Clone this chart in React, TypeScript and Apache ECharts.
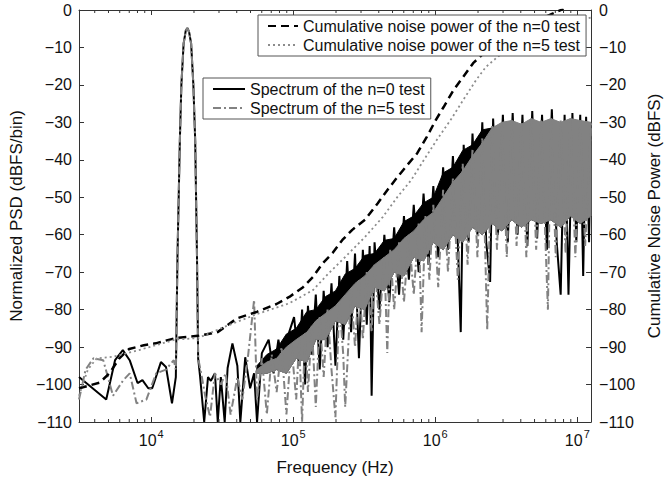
import React, { useEffect, useRef } from 'react';
import * as echarts from 'echarts';

const FONT = '"Liberation Sans", Arial, Helvetica, sans-serif';

const X_MIN = 3100;
const X_MAX = 12500000;
const Y_MIN = -110;
const Y_MAX = 0;

const NAME_CUM0 = 'Cumulative noise power of the n=0 test';
const NAME_CUM5 = 'Cumulative noise power of the n=5 test';
const NAME_SPEC0 = 'Spectrum of the n=0 test';
const NAME_SPEC5 = 'Spectrum of the n=5 test';

// Cumulative noise power (right axis, dBFS)
const cumN0: [number, number][] = [
  [3100, -101], [4330, -99.5], [5080, -97], [5960, -93], [6990, -90.5], [8870, -89.5],
  [10740, -89], [14780, -87.6], [21320, -87], [29320, -86], [40320, -82.3], [55440, -80.6],
  [76270, -78.5], [93830, -76.6], [117300, -74], [137500, -71.3], [161300, -67.6],
  [189100, -64.9], [221800, -61.4], [260200, -58.7], [320100, -56], [393700, -51.6],
  [461700, -48], [541600, -44.6], [635200, -41.4], [744700, -38.3], [873600, -33.8],
  [1008000, -29.4], [1145000, -25.9], [1343000, -21.4], [1575000, -17.8], [1847000, -14.2],
  [2200000, -11.5], [3470000, -6.8], [5800000, -2], [8000000, 0.3],
];
const cumN5: [number, number][] = [
  [3100, -103], [3578, -96], [4130, -93], [5329, -92.6], [8195, -90.8], [14780, -88],
  [21320, -87.6], [32780, -84.6], [55440, -81.2], [93830, -78.3], [137500, -74.8],
  [177500, -70.3], [232700, -65.9], [320100, -60.6], [426300, -55.3], [541600, -49.9],
  [677000, -45.4], [832600, -40], [1024000, -34.7], [1280000, -29.4], [1575000, -24],
  [1938000, -18.7], [2272000, -15.2], [2751000, -12.5], [4806000, -6], [12500000, -2],
];

// Spectrum of the n=0 test (left axis, dBFS/bin)
const specN0: [number, number][] = [
  [3100, -98], [4820, -104], [5560, -93.5], [6310, -90.8], [7050, -93.5], [8010, -99.6],
  [8670, -98.8], [9530, -101], [10160, -101], [11700, -94], [12700, -95.3], [14000, -105],
  [14900, -98], [15300, -66], [15900, -35], [16300, -20], [16900, -9], [17500, -5.5],
  [18000, -4.8], [18500, -6], [19100, -9], [19800, -20], [20400, -35], [21000, -66],
  [21400, -93], [22100, -98], [23600, -110], [25100, -98], [26300, -99], [28100, -97],
  [29400, -110], [30900, -98], [32900, -110], [34500, -95.6], [37300, -89], [40400, -95],
  [42400, -110], [45900, -92.7], [49700, -101], [53000, -97], [55600, -110], [60100, -91.6],
  [67100, -88], [72700, -97], [78600, -88], [85100, -96], [93600, -86], [101300, -82],
  [110000, -95], [115400, -80], [121000, -100], [126900, -79], [135200, -92], [144100, -76],
  [153600, -96], [163700, -75], [174400, -90], [185900, -73], [198100, -95], [211100, -71],
  [224900, -88], [239700, -67], [255400, -86], [272200, -65], [290100, -93], [309100, -64],
  [329400, -84], [345100, -63], [356300, -103], [373600, -62], [404500, -80], [438000, -60],
  [474200, -78], [513400, -58], [555900, -76], [601800, -55], [651600, -72], [705400, -52],
  [763800, -70], [826900, -49], [895200, -68], [968800, -47], [1048800, -66], [1135500, -42],
  [1229300, -64], [1330900, -39], [1441100, -62], [1511200, -86], [1584900, -36],
  [1715800, -62], [1828500, -33], [1980500, -60], [2143600, -30], [2283600, -62],
  [2433000, -72.6], [2554100, -29], [2763400, -60], [2992200, -28], [3239300, -62],
  [3507000, -27.5], [3795700, -60], [4109600, -28], [4448600, -63], [4816900, -27],
  [5215000, -61], [5646100, -28], [6112400, -64], [6617200, -26.5], [7163700, -62],
  [7637600, -76], [8139300, -28], [8669600, -76], [9238200, -27.5], [9842400, -62],
  [10488000, -28], [11000000, -71], [11536000, -28.5], [12099000, -62], [12500000, -30],
];

// Spectrum of the n=5 test (left axis, dBFS/bin)
const specN5: [number, number][] = [
  [3100, -104], [3451, -96], [3919, -93], [4592, -93.5], [5384, -103], [6310, -99],
  [7054, -97], [7880, -105], [9237, -104], [10830, -97], [12690, -96], [14410, -93.5],
  [14900, -96], [15300, -66], [15900, -35], [16300, -20], [16900, -9], [17500, -5.5],
  [18000, -4.8], [18500, -6], [19100, -9], [19800, -20], [20400, -35], [21000, -66],
  [21400, -93], [22490, -97], [23970, -103], [25940, -108.6], [28080, -97], [30910, -100],
  [33440, -97], [36190, -108], [40450, -98], [43800, -104], [48170, -92], [53000, -77.4],
  [55590, -104], [60180, -93], [65160, -108], [70540, -92], [76380, -102], [82690, -90],
  [89520, -108], [96880, -89], [104900, -104], [110000, -88], [115400, -110], [121000, -86],
  [126900, -102], [135200, -84], [144100, -106], [153600, -82], [163700, -98], [174400, -80],
  [185900, -96], [198100, -108.7], [211100, -78], [224900, -92], [232100, -106],
  [255400, -75], [272200, -90], [290100, -72], [309100, -88], [329400, -70], [356300, -86],
  [373600, -68], [404500, -84], [438000, -66], [459300, -91.6], [481700, -64], [513400, -80],
  [555900, -62], [601800, -78], [651600, -60], [705400, -76], [763800, -57], [801000, -86],
  [853200, -55], [909500, -72], [968800, -52], [1048800, -74], [1135500, -48],
  [1229300, -70], [1330900, -45], [1441100, -72], [1560000, -41], [1688900, -68],
  [1828500, -37], [1980500, -66], [2143600, -34], [2320800, -85.5], [2511900, -31],
  [2719900, -64], [2944400, -30], [3187500, -66], [3451400, -29.5], [3735900, -63],
  [4045400, -30], [4378500, -66], [4742200, -29], [5132500, -64], [5558800, -29.5],
  [6209900, -80], [6515700, -29], [7054200, -66], [7637600, -29.5], [8268500, -65],
  [8951600, -29], [9688000, -66], [10488000, -29.5], [11355000, -63], [12500000, -30],
];

// Dense-region cores (n=0 core top, n=5 core top / bottom)
const bandFreq = [
  55440, 65160,
  76380, 89520, 104900, 124900, 144100, 168900, 198100, 232100, 272200, 318800,
  373600, 438000, 513400, 601800, 705400, 826900, 968800, 1135500, 1330900, 1560000,
  1828500, 2143600, 2511900, 2944400, 3451400, 4045400, 4742200, 5558800, 6515700,
  7637600, 8951600, 10488000, 12500000,
];
const bandN0Hi = [
  -95, -92,
  -90.5, -86.5, -85, -80.5, -80, -76.5, -75, -70.5, -69, -65.5,
  -65, -61.5, -61, -56.5, -55, -51.5, -50, -43.5, -42, -37.5,
  -36, -32, -31.5, -30.5, -30.5, -31, -30.5, -30.5, -30.5,
  -30.5, -30.5, -30.5, -31,
];
const bandN5Hi = [
  -96, -94,
  -93, -90, -88, -86, -83, -81, -79, -76, -73, -71,
  -68, -66, -64, -61, -59, -56, -54, -50, -46, -43,
  -39, -35.5, -31.5, -30, -29.5, -30.5, -29, -30, -29,
  -30, -29, -29.5, -30,
];
const bandN5Lo = [
  -97, -97,
  -96, -97, -93, -94, -88, -88, -83, -84, -79, -80,
  -74, -75, -70, -71, -66, -67, -62, -64, -60, -62,
  -58, -60, -57, -59, -56, -58, -56, -57, -56,
  -58, -55, -57, -55,
];

const minorTickFreq = [
  4000, 5000, 6000, 7000, 8000, 9000,
  20000, 30000, 40000, 50000, 60000, 70000, 80000, 90000,
  200000, 300000, 400000, 500000, 600000, 700000, 800000, 900000,
  2000000, 3000000, 4000000, 5000000, 6000000, 7000000, 8000000, 9000000,
];

const AXIS_COLOR = '#333';
const TEXT_COLOR = '#111';
const GREY = '#828282';

function bandSeries(name: string, hi: number[], lo: number[], color: string, z: number) {
  return {
    type: 'custom',
    name,
    coordinateSystem: 'cartesian2d',
    xAxisIndex: 0,
    yAxisIndex: 0,
    clip: true,
    silent: true,
    z,
    data: bandFreq.map((f, i) => [f, hi[i], lo[i]]),
    encode: { x: 0, y: [1, 2] },
    renderItem: (params: any, api: any) => {
      if (params.dataIndex !== 0) return null;
      const top = bandFreq.map((f, i) => api.coord([f, hi[i]]));
      const bot = bandFreq.map((f, i) => api.coord([f, lo[i]])).reverse();
      return {
        type: 'polygon',
        shape: { points: top.concat(bot) },
        style: { fill: color, stroke: color, lineWidth: 1 },
      };
    },
  };
}

function yLabel(v: number) {
  return v < 0 ? '\u2212' + String(-v) : String(v);
}

function xLabel(v: number) {
  const e = Math.round(Math.log10(v));
  if (Math.abs(v / Math.pow(10, e) - 1) > 1e-6) return '';
  return '{b|10}{s|' + e + '}';
}

export default function App() {
  const ref = useRef<HTMLDivElement>(null);

  useEffect(() => {
    if (!ref.current) return;
    const chart = echarts.init(ref.current, undefined, { renderer: 'svg' });

    const axisLine = { show: true, onZero: false, lineStyle: { color: AXIS_COLOR, width: 1 } };
    const axisTick = { show: true, inside: true, length: 5, lineStyle: { color: AXIS_COLOR, width: 1 } };

    const legendCommon = {
      orient: 'vertical',
      itemHeight: 14,
      itemGap: 3,
      padding: [3, 6, 3, 9],
      backgroundColor: '#fff',
      borderColor: '#555',
      borderWidth: 1,
      selectedMode: false,
      z: 10,
      itemStyle: { opacity: 0 },
      textStyle: { fontSize: 16, fontFamily: FONT, color: TEXT_COLOR },
    };

    const option: any = {
      animation: false,
      backgroundColor: '#fff',
      textStyle: { fontFamily: FONT },
      grid: { left: 79, right: 71, top: 10, bottom: 59, containLabel: false },
      xAxis: [
        {
          type: 'log',
          logBase: 10,
          min: X_MIN,
          max: X_MAX,
          position: 'bottom',
          axisLine,
          axisTick,
          splitLine: { show: false },
          axisLabel: {
            formatter: xLabel,
            margin: 6,
            showMinLabel: false,
            showMaxLabel: false,
            rich: {
              b: { fontSize: 16, fontFamily: FONT, color: TEXT_COLOR, lineHeight: 20, verticalAlign: 'bottom' },
              s: { fontSize: 11, fontFamily: FONT, color: TEXT_COLOR, lineHeight: 20, verticalAlign: 'top', padding: [0, 0, 0, 1] },
            },
          },
          name: 'Frequency (Hz)',
          nameLocation: 'middle',
          nameGap: 37,
          nameTextStyle: { fontSize: 17, fontFamily: FONT, color: TEXT_COLOR },
        },
        {
          type: 'log',
          logBase: 10,
          min: X_MIN,
          max: X_MAX,
          position: 'top',
          axisLine,
          axisTick,
          splitLine: { show: false },
          axisLabel: { show: false },
        },
      ],
      yAxis: [
        {
          type: 'value',
          min: Y_MIN,
          max: Y_MAX,
          interval: 10,
          position: 'left',
          axisLine,
          axisTick,
          splitLine: { show: false },
          axisLabel: { formatter: yLabel, fontSize: 16, fontFamily: FONT, color: TEXT_COLOR, margin: 7 },
          name: 'Normalized PSD (dBFS/bin)',
          nameLocation: 'middle',
          nameRotate: 90,
          nameGap: 53,
          nameTextStyle: { fontSize: 17, fontFamily: FONT, color: TEXT_COLOR },
        },
        {
          type: 'value',
          min: Y_MIN,
          max: Y_MAX,
          interval: 10,
          position: 'right',
          axisLine,
          axisTick,
          splitLine: { show: false },
          axisLabel: { formatter: yLabel, fontSize: 16, fontFamily: FONT, color: TEXT_COLOR, margin: 8 },
          name: 'Cumulative Noise Power (dBFS)',
          nameLocation: 'middle',
          nameRotate: 90,
          nameGap: 47,
          nameTextStyle: { fontSize: 17, fontFamily: FONT, color: TEXT_COLOR },
        },
      ],
      legend: [
        { ...legendCommon, data: [NAME_CUM0, NAME_CUM5], left: 258, top: 15, itemWidth: 30 },
        { ...legendCommon, data: [NAME_SPEC0, NAME_SPEC5], left: 203, top: 78, itemWidth: 32 },
      ],
      series: [
        bandSeries('bandN0', bandN0Hi, bandN5Lo, '#000', 2),
        {
          type: 'line',
          name: NAME_SPEC0,
          data: specN0,
          xAxisIndex: 0,
          yAxisIndex: 0,
          symbol: 'none',
          showSymbol: false,
          silent: true,
          z: 3,
          lineStyle: { color: '#000', width: 2 },
          itemStyle: { color: '#000' },
        },
        bandSeries('bandN5', bandN5Hi, bandN5Lo, GREY, 4),
        {
          type: 'line',
          name: NAME_SPEC5,
          data: specN5,
          xAxisIndex: 0,
          yAxisIndex: 0,
          symbol: 'none',
          showSymbol: false,
          silent: true,
          z: 5,
          lineStyle: { color: GREY, width: 2, type: [8, 3, 2, 3] },
          itemStyle: { color: GREY },
        },
        {
          type: 'line',
          name: NAME_CUM0,
          data: cumN0,
          xAxisIndex: 0,
          yAxisIndex: 1,
          symbol: 'none',
          showSymbol: false,
          silent: true,
          z: 6,
          lineStyle: { color: '#000', width: 2.5, type: [8, 5] },
          itemStyle: { color: '#000' },
        },
        {
          type: 'line',
          name: NAME_CUM5,
          data: cumN5,
          xAxisIndex: 0,
          yAxisIndex: 1,
          symbol: 'none',
          showSymbol: false,
          silent: true,
          z: 6,
          lineStyle: { color: '#8c8c8c', width: 1.8, type: [2, 3] },
          itemStyle: { color: '#8c8c8c' },
        },
        {
          type: 'custom',
          name: 'minorTicks',
          coordinateSystem: 'cartesian2d',
          xAxisIndex: 0,
          yAxisIndex: 0,
          silent: true,
          clip: false,
          z: 7,
          data: minorTickFreq.map((f) => [f, Y_MIN]),
          renderItem: (params: any, api: any) => {
            const f = api.value(0);
            const b = api.coord([f, Y_MIN]);
            const t = api.coord([f, Y_MAX]);
            return {
              type: 'group',
              children: [
                { type: 'line', shape: { x1: b[0], y1: b[1], x2: b[0], y2: b[1] - 3 }, style: { stroke: AXIS_COLOR, lineWidth: 1 } },
                { type: 'line', shape: { x1: t[0], y1: t[1], x2: t[0], y2: t[1] + 3 }, style: { stroke: AXIS_COLOR, lineWidth: 1 } },
              ],
            };
          },
        },
      ],
    };

    chart.setOption(option);
    return () => {
      chart.dispose();
    };
  }, []);

  return (
    <div
      ref={ref}
      style={{ position: 'fixed', left: 0, top: 0, width: 671, height: 481, background: '#fff' }}
    />
  );
}
